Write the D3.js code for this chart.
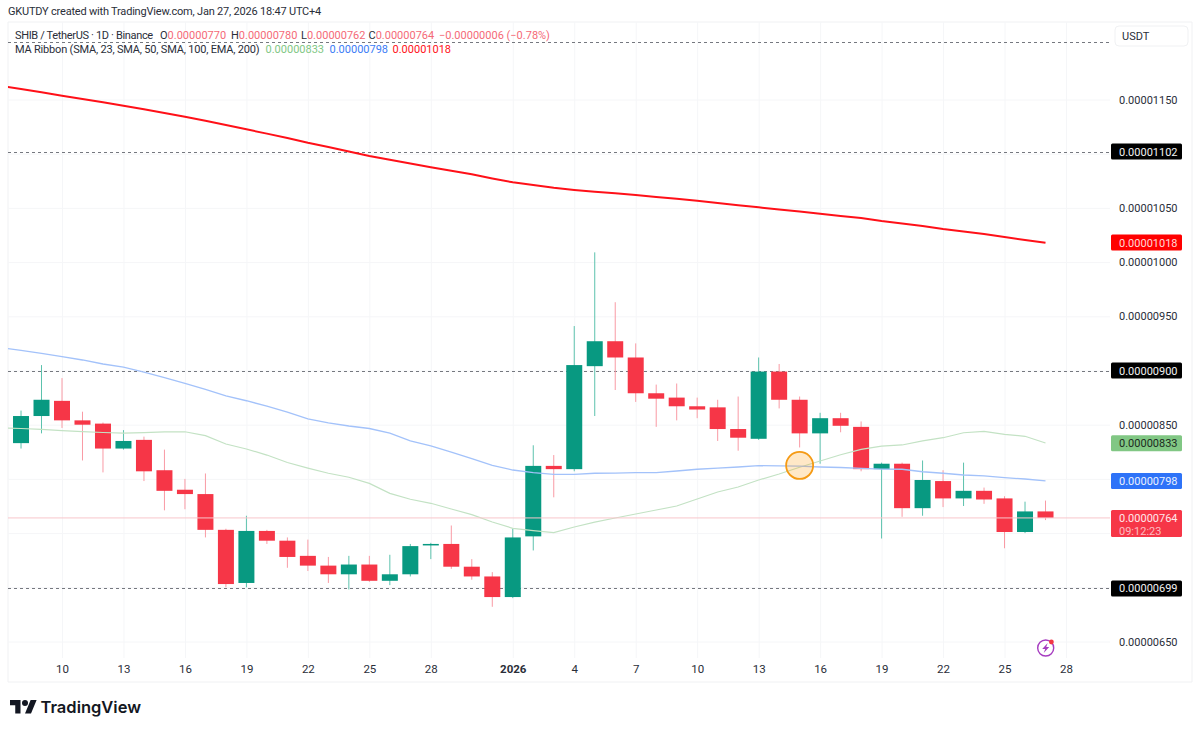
<!DOCTYPE html>
<html><head><meta charset="utf-8">
<script src="https://cdn.jsdelivr.net/npm/d3@7/dist/d3.min.js"></script>
<style>
html,body{margin:0;padding:0;background:#fff;overflow:hidden}
svg{display:block}
text{font-family:Roboto,"Liberation Sans",sans-serif;}
.domain{display:none}
</style></head><body>
<svg id="c" width="1200" height="731"></svg>
<script>
// All prices in units of 1e-8 USDT
const opens  = [833,858,872,854,851,828,836,808,790,786,753,704,752,743,729,720,712,721,706,712,739,740,719,710,691,747,812,809,904,927,912,879,875,867,866,846,837,899,873,842,856,848,809,814,773,798,782,789,782,751,770];
const highs  = [863,905,893,862,852,845,839,827,800,805,754,766,753,746,744,728,729,729,730,740,741,757,726,714,754,831,822,941,1009,963,925,887,888,875,873,876,912,906,876,861,861,853,815,815,817,808,815,792,784,779,780];
const lows   = [828,842,847,817,806,827,798,771,772,746,700,700,740,718,715,704,698,705,702,710,726,717,707,682,690,734,783,807,858,882,871,848,854,856,835,826,836,865,829,814,843,807,745,765,766,774,775,777,736,750,762];
const closes = [858,873,854,850,828,835,807,789,786,753,703,752,743,728,720,712,721,706,712,738,740,719,710,691,746,812,809,905,927,912,879,874,867,864,846,838,899,873,842,856,849,809,814,773,799,782,789,781,751,770,764];
// Moving averages, daily from Dec 7
const smaGreen = [847,846.5,845.6,844.5,843.7,842.8,842.3,842.6,843.3,843.5,839.9,832.2,827.6,822,815.1,810,805.2,801.5,795.9,786.7,781.2,777.5,772.2,767,760.2,754.4,752.2,750.4,755.6,760.2,763.9,767.6,771.3,775,781.5,787.9,792.5,799,804.5,810.7,816.5,822.3,827.3,830.3,831.3,835,838,842.6,843.9,841.1,839.3,833.1];
const smaBlue  = [921.2,918.5,915.7,912.7,909.7,906,903.2,898.6,893.5,888.2,882.5,876.5,872.1,867.2,861.7,855.3,851.6,848.8,846.5,842.3,835,830.4,824.8,818.6,812.5,808.2,805.7,804.2,804.2,805.2,805.4,805.7,805.7,807.3,808.9,810,811,812.2,812,811.7,811,810.5,809.8,809.1,808.9,806.6,805.2,803.6,802.7,801.1,799.9,798.1];
const emaRed   = [1162.7,1159.7,1156.6,1153.5,1150.5,1147.4,1144.3,1141,1137.5,1134.1,1130.3,1126.4,1122.5,1118.5,1114.5,1110.1,1106.2,1102,1097.9,1094.4,1090.9,1087.5,1084.2,1081,1077.1,1073.6,1071.1,1068.5,1066.5,1064.9,1063.5,1061.9,1060.1,1058.4,1056.6,1054.5,1052.4,1050.5,1048.6,1046.7,1044.6,1042.5,1040.7,1037.9,1035.6,1033.3,1030.5,1028.2,1025.9,1023.2,1020.4,1017.9];
const priceTicks = [650,700,750,800,850,900,950,1000,1050,1100,1150];
const priceLabelTicks = [650,850,950,1000,1050,1150];
const levels = [1203,1102,900,699];
const levelLabels = [1102,900,699];
const timeTicks = ["2025-12-10","2025-12-13","2025-12-16","2025-12-19","2025-12-22","2025-12-25","2025-12-28","2026-01-01","2026-01-04","2026-01-07","2026-01-10","2026-01-13","2026-01-16","2026-01-19","2026-01-22","2026-01-25","2026-01-28"];
const timeLabels = ["10","13","16","19","22","25","28","2026","4","7","10","13","16","19","22","25","28"];
const marker = {day:"2026-01-15", value:812.4};
const ohlcParts = [["O",770],["H",780],["L",762],["C",764]];

const fmt = v => (v/1e8).toFixed(8);
const D = s => new Date(s+"T00:00:00Z");
const svg = d3.select("#c");
const pL=8, pR=1110, pT=22, paneBottom=658, frameRight=1192, frameBottom=682;

const x = d3.scaleUtc().domain([D("2025-12-10"),D("2026-01-28")]).range([62,1066]);
const y = d3.scaleLinear().domain([650,1150]).range([641.5,99.5]);
const candleDays = d3.utcDay.range(D("2025-12-08"),D("2026-01-28"));
const maDays = d3.utcDay.range(D("2025-12-07"),D("2026-01-28"));

const GREEN="#089981", RED="#f63647", TXT="#2a2e39";

svg.append("clipPath").attr("id","plot").append("rect").attr("x",pL).attr("y",pT).attr("width",pR-pL).attr("height",paneBottom-pT);

// frame
svg.append("g").selectAll("line").data([[pL,pT,frameRight,pT],[pL,pT,pL,frameBottom],[frameRight,pT,frameRight,frameBottom],[pL,frameBottom,frameRight,frameBottom]])
 .join("line").attr("x1",d=>d[0]).attr("y1",d=>d[1]).attr("x2",d=>d[2]).attr("y2",d=>d[3]).attr("stroke","#f0f1f3");

// grid + axes via d3 axes
const yAxis = d3.axisRight(y).tickValues(priceTicks).tickSize(pR-pL).tickFormat("");
const gy = svg.append("g").attr("transform",`translate(${pL},0)`).call(yAxis);
gy.selectAll(".tick line").attr("stroke","#f5f6f8");
const xAxis = d3.axisBottom(x).tickValues(timeTicks.map(D)).tickSize(paneBottom-pT).tickFormat("");
const gx = svg.append("g").attr("transform",`translate(0,${pT})`).call(xAxis);
gx.selectAll(".tick line").attr("stroke","#f5f6f8");

const xLab = d3.axisBottom(x).tickValues(timeTicks.map(D)).tickSize(0).tickPadding(0).tickFormat((d,i)=>timeLabels[i]);
const gxl = svg.append("g").attr("transform",`translate(0,665)`).call(xLab);
gxl.selectAll("text").attr("font-size",11.5).attr("fill",TXT).attr("font-weight",(d,i)=>timeLabels[i]==="2026"?700:400).attr("font-family",null);

const yLab = d3.axisRight(y).tickValues(priceLabelTicks).tickSize(0).tickPadding(0).tickFormat(fmt);
const gyl = svg.append("g").attr("transform","translate(1119,0)").call(yLab);
gyl.selectAll("text").attr("font-size",11).attr("fill",TXT).attr("font-family",null);

const plot = svg.append("g").attr("clip-path","url(#plot)");

// key levels
plot.selectAll(".lvl").data(levels).join("line").attr("class","lvl").attr("x1",pL).attr("x2",pR-1).attr("y1",d=>Math.round(y(d))+.5).attr("y2",d=>Math.round(y(d))+.5)
 .attr("stroke","#75787f").attr("stroke-width",1).attr("stroke-dasharray","3 3");

// candles
const cg = plot.selectAll(".c").data(candleDays).join("g").attr("class","c");
cg.append("line").attr("x1",d=>x(d)).attr("x2",d=>x(d))
 .attr("y1",(d,i)=>y(highs[i])).attr("y2",(d,i)=>y(lows[i])).attr("stroke-width",1)
 .attr("stroke",(d,i)=>closes[i]>=opens[i]?"#5cc2ad":"#f99aa4");
cg.append("rect").attr("x",d=>x(d)-8).attr("width",16)
 .attr("y",(d,i)=>y(Math.max(opens[i],closes[i])))
 .attr("height",(d,i)=>Math.max(1.5,Math.abs(y(opens[i])-y(closes[i]))))
 .attr("fill",(d,i)=>closes[i]>=opens[i]?GREEN:RED);

// MA ribbon
const line = d3.line().x((d,i)=>x(maDays[i])).y(d=>y(d));
plot.append("path").attr("d",line(smaGreen)).attr("fill","none").attr("stroke","#c3e2c4").attr("stroke-width",1.2);
plot.append("path").attr("d",line(smaBlue)).attr("fill","none").attr("stroke","#a3c2fa").attr("stroke-width",1.3);
plot.append("path").attr("d",line(emaRed)).attr("fill","none").attr("stroke","#ff1018").attr("stroke-width",2);

// last price line
plot.append("line").attr("x1",pL).attr("x2",pR).attr("y1",y(764)).attr("y2",y(764)).attr("stroke","#f8c6cc").attr("stroke-width",1);

// marker
svg.append("circle").attr("cx",x(D(marker.day))).attr("cy",y(marker.value)).attr("r",13.5)
 .attr("fill","#ff9800").attr("fill-opacity",.22).attr("stroke","#f59a14").attr("stroke-width",1.8);

// price labels
function tag(v,bg,fg,h,sub){
  const cy=y(v);
  svg.append("rect").attr("x",1111).attr("y",cy-8).attr("width",71).attr("height",h||16).attr("rx",1.5).attr("fill",bg);
  svg.append("text").attr("x",1119).attr("y",cy+.5).attr("dy","0.32em").attr("font-size",11).attr("fill",fg).text(fmt(v));
  if(sub) svg.append("text").attr("x",1119).attr("y",cy+13.5).attr("dy","0.32em").attr("font-size",11).attr("fill",fg).attr("fill-opacity",.75).text(sub);
}
levelLabels.forEach(v=>tag(v,"#000","#f2f2f2"));
tag(1018,"#ff0000","#ffd9d9");
tag(833,"#81c784","#1c2a1e");
tag(798,"#2e73f8","#eaf1ff");
tag(764,RED,"#ffe8ea",27,"09:12:23");

// header
svg.append("text").attr("x",8).attr("y",15).attr("font-size",11).attr("letter-spacing",-0.2).attr("fill",TXT).text("GKUTDY created with TradingView.com, Jan 27, 2026 18:47 UTC+4");
svg.append("text").attr("x",15).attr("y",39).attr("font-size",11).attr("letter-spacing",-0.34).attr("fill",TXT).text("SHIB / TetherUS · 1D · Binance");
const ohlcX=[160,231,301,368.5], red2="#f56a77";
ohlcParts.forEach((p,i)=>{
  const t=svg.append("text").attr("x",ohlcX[i]).attr("y",39).attr("font-size",11).attr("fill",TXT);
  t.append("tspan").text(p[0]);
  t.append("tspan").attr("fill",red2).text(fmt(p[1]));
});
svg.append("text").attr("x",439).attr("y",39).attr("font-size",11).attr("fill",red2).text("−"+fmt(6)+" (−0.78%)");
svg.append("text").attr("x",15).attr("y",53).attr("font-size",11).attr("letter-spacing",-0.19).attr("fill",TXT).text("MA Ribbon (SMA, 23, SMA, 50, SMA, 100, EMA, 200)");
svg.append("text").attr("x",265.5).attr("y",53).attr("font-size",11).attr("fill","#81c784").text(fmt(833));
svg.append("text").attr("x",329.5).attr("y",53).attr("font-size",11).attr("fill","#3b7cf6").text(fmt(798));
svg.append("text").attr("x",392.5).attr("y",53).attr("font-size",11).attr("fill","#ff1018").text(fmt(1018));

// USDT box
svg.append("rect").attr("x",1115).attr("y",26).attr("width",73).attr("height",20).attr("rx",4).attr("fill","#fff").attr("stroke","#f0f1f3");
svg.append("text").attr("x",1122).attr("y",40).attr("font-size",11).attr("fill",TXT).text("USDT");

// logo
const lg = svg.append("g").attr("transform","translate(10,697) scale(0.75)").attr("fill","#131722");
lg.append("path").attr("d","M14 22H7V11H0V4h14v18zM28 22h-8l7.5-18h8L28 22z");
lg.append("circle").attr("cx",20).attr("cy",8).attr("r",4);
svg.append("text").attr("x",40.5).attr("y",712.5).style("font-family","Inter").attr("font-size",16.5).attr("font-weight",600).attr("fill","#131722").text("TradingView");

// badge
const b = svg.append("g").attr("transform","translate(1045.7,648)");
b.append("circle").attr("r",8).attr("fill","#fff").attr("stroke","#a63cc0").attr("stroke-width",1.4);
b.append("path").attr("d","M2 -5 L-3.5 1 H-0.5 L-2 5 L3.5 -1 H0.5 Z").attr("fill","#a63cc0");
b.append("circle").attr("cx",5.7).attr("cy",-6).attr("r",2.4).attr("fill","#f23645");
</script>
</body></html>
